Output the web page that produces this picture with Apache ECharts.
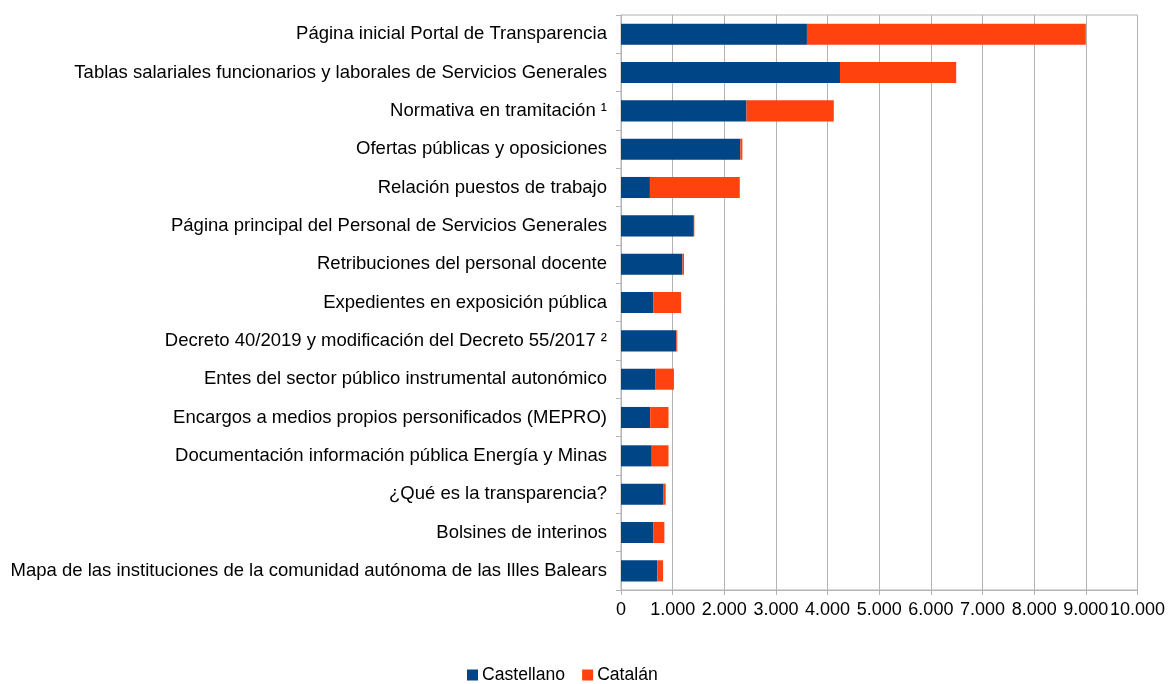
<!DOCTYPE html>
<html>
<head>
<meta charset="utf-8">
<script src="https://cdn.jsdelivr.net/npm/echarts@6/dist/echarts.min.js"></script>
<style>
  html, body { margin: 0; padding: 0; background: #fff; }
  #chart { width: 1168px; height: 684px; }
</style>
</head>
<body>
<div id="chart"></div>
<script>
// paginas, de arriba abajo
var categories = [
  'Página inicial Portal de Transparencia',
  'Tablas salariales funcionarios y laborales de Servicios Generales',
  'Normativa en tramitación ¹',
  'Ofertas públicas y oposiciones',
  'Relación puestos de trabajo',
  'Página principal del Personal de Servicios Generales',
  'Retribuciones del personal docente',
  'Expedientes en exposición pública',
  'Decreto 40/2019 y modificación del Decreto 55/2017 ²',
  'Entes del sector público instrumental autonómico',
  'Encargos a medios propios personificados (MEPRO)',
  'Documentación información pública Energía y Minas',
  '¿Qué es la transparencia?',
  'Bolsines de interinos',
  'Mapa de las instituciones de la comunidad autónoma de las Illes Balears'
];
var castellano = [3600, 4240, 2430, 2310, 560, 1410, 1190, 630, 1070, 670, 565, 595, 815, 630, 705];
var catalan    = [5400, 2250, 1690, 40, 1740, 10, 30, 535, 20, 355, 355, 325, 50, 210, 110];

function fmt(v) {
  return String(v).replace(/\B(?=(\d{3})+(?!\d))/g, '.');
}

var chart = echarts.init(document.getElementById('chart'));
chart.setOption({
  animation: false,
  textStyle: { fontFamily: 'Liberation Sans', color: '#000' },
  grid: {
    left: 621, right: 29, top: 15, bottom: 94,
    show: true, borderColor: '#b3b3b3', borderWidth: 1
  },
  legend: {
    bottom: -5, left: 462,
    itemWidth: 11, itemHeight: 11, itemGap: 17,
    icon: 'rect',
    textStyle: { fontSize: 17.6, color: '#000', fontFamily: 'Liberation Sans', padding: [0, 0, 0, -1] },
    data: ['Castellano', 'Catalán']
  },
  xAxis: {
    type: 'value', min: 0, max: 10000, interval: 1000,
    axisLine: { show: true, lineStyle: { color: '#b3b3b3' } },
    axisTick: { show: true, length: 5, lineStyle: { color: '#b3b3b3' } },
    splitLine: { show: true, lineStyle: { color: '#b3b3b3' } },
    axisLabel: { fontSize: 18, color: '#000', margin: 11, formatter: fmt }
  },
  yAxis: {
    type: 'category', inverse: true, data: categories,
    axisLine: { show: true, lineStyle: { color: '#b3b3b3' } },
    axisTick: { show: true, length: 5, lineStyle: { color: '#b3b3b3' } },
    axisLabel: { fontSize: 18.5, color: '#000', margin: 14 }
  },
  series: [
    {
      name: 'Castellano', type: 'bar', stack: 'total',
      data: castellano, barWidth: '55%',
      itemStyle: { color: '#004586' }
    },
    {
      name: 'Catalán', type: 'bar', stack: 'total',
      data: catalan, barWidth: '55%',
      itemStyle: { color: '#ff420e' }
    }
  ]
});
</script>
</body>
</html>
